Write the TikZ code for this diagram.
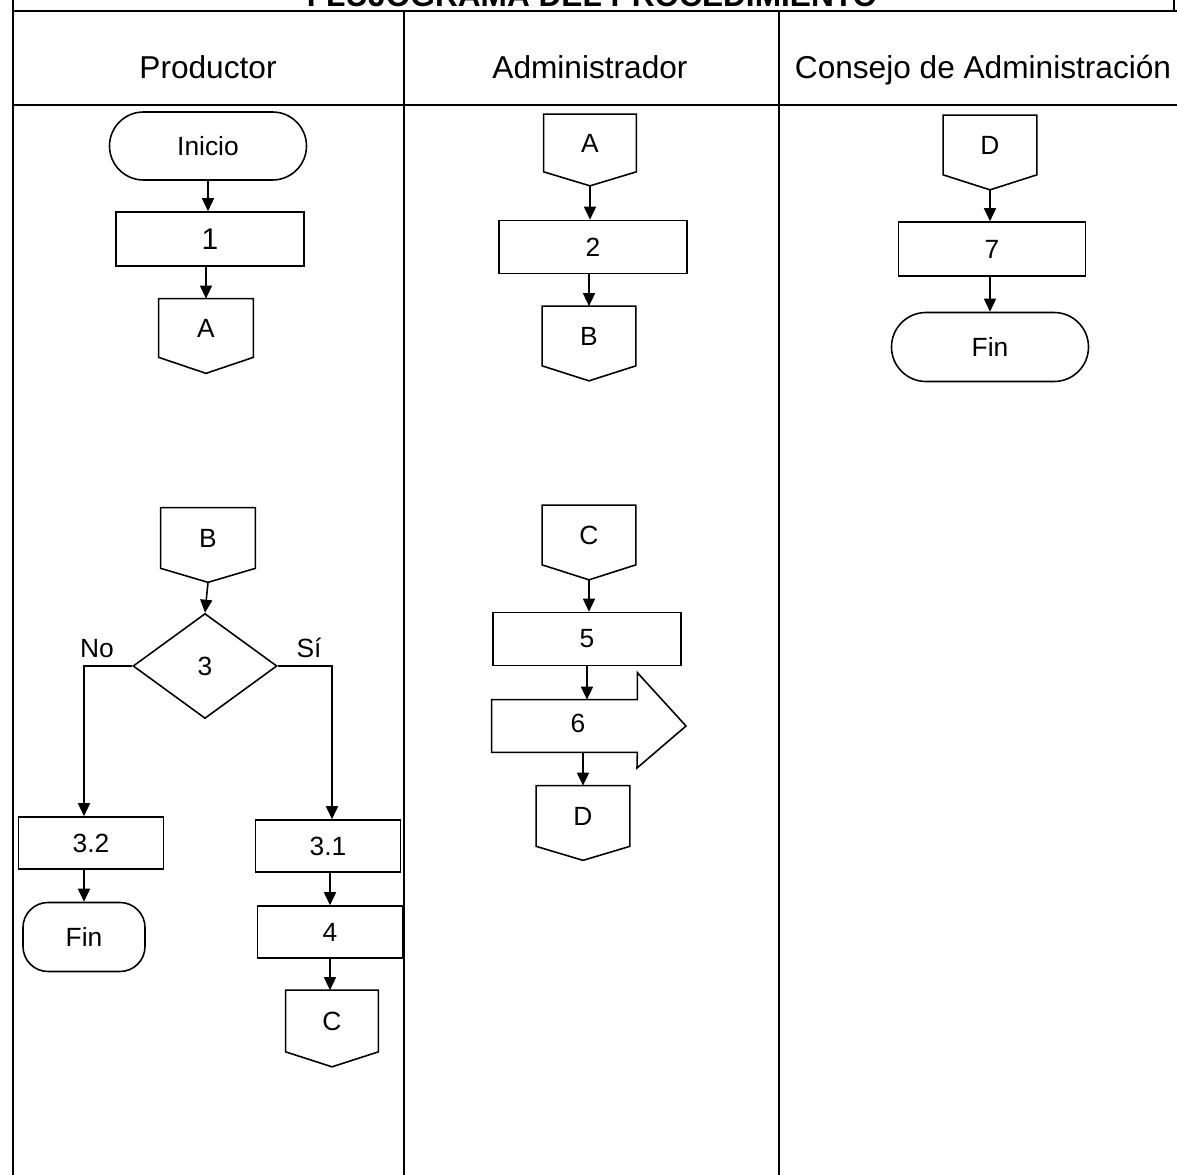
\documentclass[tikz,border=0pt]{standalone}
\usepackage{fontspec}
\setmainfont{Liberation Sans}
\usetikzlibrary{arrows.meta,shapes.geometric,shapes.misc}
\newcommand{\nf}{\fontsize{15pt}{18pt}\selectfont}
\newcommand{\hf}{\fontsize{18pt}{21pt}\selectfont}
\tikzset{
  frame/.style={line width=1.1pt},
  shp/.style={line width=0.9pt},
  arr/.style={line width=0.9pt,-{Triangle[length=0.26cm,width=0.24cm]}},
  procbox/.style={shp,draw,rectangle,inner sep=0pt,font=\nf},
  term/.style={shp,draw,rounded rectangle,inner sep=0pt,font=\nf},
}
% off-page connector: name, x, y, width, height, depth, text
\newcommand{\offpg}[7]{%
  \node[inner sep=0pt,minimum width=#4*0.02cm,minimum height=#5*0.02cm,font=\nf] (#1) at (#2,#3) {#7};
  \draw[shp] (#1.north west) -- (#1.north east) -- (#1.south east)
     -- ([yshift=-#6*0.02cm]#1.south) -- (#1.south west) -- cycle;
  \coordinate (#1t) at ([yshift=-#6*0.02cm]#1.south);}
\begin{document}
\begin{tikzpicture}[x=0.02cm,y=-0.02cm]
\useasboundingbox (0,0) rectangle (1177,1175);
\clip (0,0) rectangle (1177,1175);
% title (cut off at top, as in the original)
\node[anchor=base,font=\hf\bfseries,inner sep=0pt] (title) at (592,7) {FLUJOGRAMA DEL PROCEDIMIENTO};
% frame
\draw[frame] (13,11) -- (1177,11);
\draw[frame] (13,105) -- (1177,105);
\draw[frame] (13,0) -- (13,1175);
\draw[frame] (404,11) -- (404,1175);
\draw[frame] (779,11) -- (779,1175);
\draw[frame] (1174,0) -- (1174,11);
% headers
\node[anchor=base,font=\hf,inner sep=0pt] (h1) at (208,79) {Productor};
\node[anchor=base,font=\hf,inner sep=0pt] (h2) at (590,79) {Administrador};
\node[anchor=base,font=\hf,inner sep=0pt] (h3) at (983,79) {Consejo de Administración};

% ---------- Productor ----------
\node[term,minimum width=197*0.02cm,minimum height=68*0.02cm] (ini) at (208,146) {Inicio};
\node[procbox,minimum width=188*0.02cm,minimum height=54*0.02cm,font=\fontsize{17pt}{20pt}\selectfont] (p1) at (210,239) {1};
\offpg{ca1}{206}{328}{94}{58}{16}{A}
\offpg{cb1}{208}{538}{94}{60}{14}{B}
\node[shp,draw,diamond,inner sep=0pt,minimum width=144*0.02cm,minimum height=105*0.02cm,aspect=1.37,font=\nf] (d3) at (205,666) {3};
\node[procbox,minimum width=145*0.02cm,minimum height=52*0.02cm] (p32) at (91,843) {3.2};
\node[shp,draw,rectangle,rounded corners=0.5cm,inner sep=0pt,font=\nf,minimum width=122*0.02cm,minimum height=69*0.02cm] (fin1) at (84,937) {Fin};
\node[procbox,minimum width=145*0.02cm,minimum height=52*0.02cm] (p31) at (328,846) {3.1};
\node[procbox,minimum width=145*0.02cm,minimum height=52*0.02cm] (p4) at (330,932) {4};
\offpg{cc1}{332}{1021}{92}{61}{15}{C}
\node[anchor=base,font=\nf,inner sep=0pt] (no) at (97,658) {No};
\node[anchor=base,font=\nf,inner sep=0pt] (si) at (309,658) {Sí};
\coordinate (p32n) at ([xshift=-0.14cm]p32.north);
\coordinate (p32s) at ([xshift=-0.14cm]p32.south);
\coordinate (p31n) at ([xshift=0.08cm]p31.north);
\coordinate (p31s) at ([xshift=0.04cm]p31.south);

\draw[arr] (ini.south) -- (ini.south |- p1.north);
\draw[arr] (p1.south -| ca1.north) -- (ca1.north);
\draw[arr] (cb1t) -- (d3.north);
\draw[arr] (d3.west) -| (p32n);
\draw[arr] (p32s) -- (p32s |- fin1.north);
\draw[arr] (d3.east) -| (p31n);
\draw[arr] (p31s) -- (p31s |- p4.north);
\draw[arr] (p4.south) -- (p4.south |- cc1.north);

% ---------- Administrador ----------
\offpg{ca2}{590}{143}{92}{57}{14}{A}
\node[procbox,minimum width=188*0.02cm,minimum height=53*0.02cm] (p2) at (593,247) {2};
\offpg{cb2}{589}{336}{93}{59}{15}{B}
\offpg{cc2}{589}{535}{93}{59}{15}{C}
\node[procbox,minimum width=188*0.02cm,minimum height=53*0.02cm] (p5) at (587,639) {5};
\node[inner sep=0pt,minimum width=145*0.02cm,minimum height=52*0.02cm] (p6) at (564.5,726) {};
\draw[shp] (p6.north west) -- (p6.north east) -- ++(0,-27) -- (686,726) -- (637,768)
   -- (p6.south east) -- (p6.south west) -- cycle;
\node[font=\nf,inner sep=0pt] (p6t) at (578,723) {6};
\offpg{cd2}{583}{816}{93}{60}{14}{D}

\draw[arr] (ca2t) -- (ca2t |- p2.north);
\draw[arr] (p2.south -| cb2.north) -- (cb2.north);
\draw[arr] (cc2t) -- (cc2t |- p5.north);
\draw[arr] (p5.south) -- (p5.south |- p6.north);
\draw[arr] (cd2.north |- p6.south) -- (cd2.north);

% ---------- Consejo ----------
\offpg{cd3}{990}{145}{93}{59}{15}{D}
\node[procbox,minimum width=187*0.02cm,minimum height=54*0.02cm] (p7) at (992,249) {7};
\node[term,minimum width=197*0.02cm,minimum height=69*0.02cm] (fin2) at (990,347) {Fin};
\draw[arr] (cd3t) -- (cd3t |- p7.north);
\draw[arr] (p7.south -| fin2.north) -- (fin2.north);
\end{tikzpicture}
\end{document}
